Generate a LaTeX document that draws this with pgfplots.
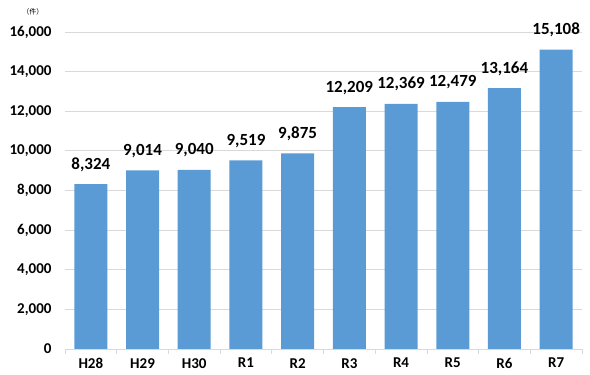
\documentclass[border=0pt]{standalone}
\usepackage{pgfplots}
\pgfplotsset{compat=1.18}
\usepackage{fontspec}
\setmainfont{Carlito}
\newfontfamily\cjk{Noto Sans CJK JP}
\definecolor{barblue}{HTML}{5B9BD5}
\definecolor{gridgray}{HTML}{D9D9D9}
\begin{document}
\begin{tikzpicture}[x=1pt,y=1pt]
\useasboundingbox (-65,-26) rectangle (525,349);
\begin{axis}[
  at={(0,0)}, anchor=south west,
  scale only axis, width=517pt, height=317pt,
  xmin=-0.5, xmax=9.5, ymin=0, ymax=16000,
  axis x line*=bottom, axis y line*=left,
  x axis line style={draw=gridgray, line width=0.8pt},
  y axis line style={draw=none},
  ytick={0,2000,...,16000},
  scaled y ticks=false,
  ymajorgrids, grid style={draw=gridgray, line width=0.8pt},
  xtick={0,...,9},
  xticklabels={H28,H29,H30,R1,R2,R3,R4,R5,R6,R7},
  minor xtick={-0.5,0.5,...,9.5},
  minor x tick style={draw=gridgray, line width=0.8pt},
  major tick length=0pt,
  minor tick length=5pt, tick align=outside,
  yticklabel style={/pgf/number format/1000 sep={,}, /pgf/number format/assume math mode=true, xshift=-10pt},
  ticklabel style={font=\fontsize{15}{18}\selectfont\bfseries},
  xticklabel style={yshift=-8pt, inner sep=1pt},
  clip=false,
]
\addplot[ybar, bar width=33pt, fill=barblue, draw=none,
  nodes near coords,
  every node near coord/.append style={font=\fontsize{17}{20}\selectfont\bfseries, anchor=base, inner sep=0pt, yshift=15pt, /pgf/number format/1000 sep={,}, /pgf/number format/assume math mode=true}
] coordinates {
(0,8324) (1,9014) (2,9040) (3,9519) (4,9875) (5,12209) (6,12369) (7,12479) (8,13164) (9,15108)
};
\node[font=\cjk\fontsize{7}{8}\selectfont] at (rel axis cs:0,1) [xshift=-32pt, yshift=20pt] {（件）};
\end{axis}
\end{tikzpicture}
\end{document}
